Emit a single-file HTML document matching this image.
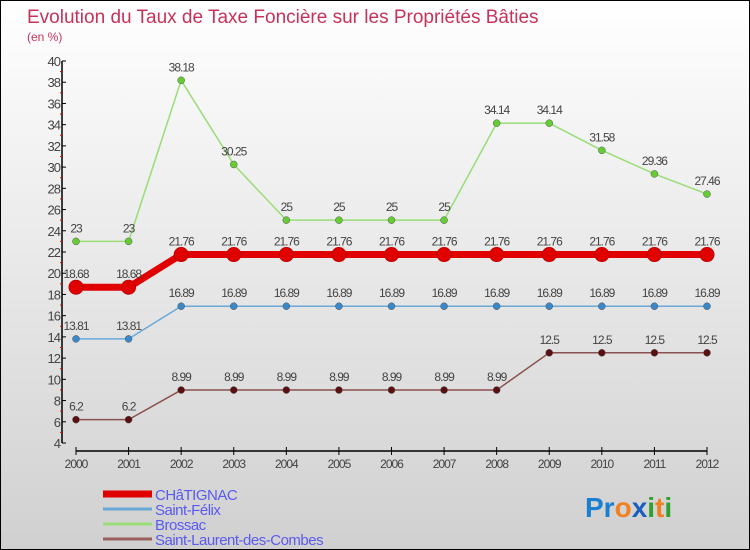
<!DOCTYPE html>
<html><head><meta charset="utf-8"><style>
body{margin:0}
#c{width:750px;height:550px;position:relative;background:linear-gradient(#fff,#d0d0d0);font-family:"Liberation Sans",sans-serif;overflow:hidden;box-sizing:border-box;border:1px solid #000}
text{font-family:"Liberation Sans",sans-serif}
</style></head><body>
<div id="c">
<svg id="s" width="750" height="550">
<text x="26" y="22" font-size="19" fill="#c8325a">Evolution du Taux de Taxe Foncière sur les Propriétés Bâties</text>
<text x="26" y="40" font-size="12" fill="#c8325a">(en %)</text>
<text x="584" y="516" font-size="28" font-weight="bold"><tspan fill="#1a7fd0">Pr</tspan><tspan fill="#f08020">o</tspan><tspan fill="#1a5fc0">x</tspan><tspan fill="#30a030">i</tspan><tspan fill="#f08020">t</tspan><tspan fill="#30a030">i</tspan></text>
</svg>
</div>
<script>
const years=[2000,2001,2002,2003,2004,2005,2006,2007,2008,2009,2010,2011,2012];
const yTicks=[4,6,8,10,12,14,16,18,20,22,24,26,28,30,32,34,36,38,40];
const chatignac=[18.68,18.68,21.76,21.76,21.76,21.76,21.76,21.76,21.76,21.76,21.76,21.76,21.76];
const saintFelix=[13.81,13.81,16.89,16.89,16.89,16.89,16.89,16.89,16.89,16.89,16.89,16.89,16.89];
const brossac=[23,23,38.18,30.25,25,25,25,25,34.14,34.14,31.58,29.36,27.46];
const saintLaurent=[6.2,6.2,8.99,8.99,8.99,8.99,8.99,8.99,8.99,12.5,12.5,12.5,12.5];
const seriesNames=["CHâTIGNAC","Saint-Félix","Brossac","Saint-Laurent-des-Combes"];
const NS="http://www.w3.org/2000/svg";
const s=document.getElementById('s');
const X=i=>75+i*(706-75)/(years.length-1);
const Y=v=>442-(v-4)*(442-60)/36;
function el(t,a,p){const e=document.createElementNS(NS,t);for(const k in a)e.setAttribute(k,a[k]);(p||s).appendChild(e);return e;}
// axes
let ya=el('line',{x1:61,y1:60,x2:61,y2:442,stroke:'#000','stroke-width':1.5});


yTicks.forEach(v=>{
  el('line',{x1:61,x2:65,y1:Y(v),y2:Y(v),stroke:'#000'});
  if(v<40) el('line',{x1:59,x2:61,y1:Y(v+1),y2:Y(v+1),stroke:'#e00'});
  const t=el('text',{x:59,y:Y(v)+5,'text-anchor':'end','font-size':13,fill:'#444','letter-spacing':'-1'});
  t.textContent=v;
  
  
});
let xa=el('line',{x1:75,y1:450,x2:706,y2:450,stroke:'#000','stroke-width':1.5});


years.forEach((y,i)=>{
  el('line',{x1:X(i),x2:X(i),y1:446,y2:454,stroke:'#000'});
  const t=el('text',{x:X(i),y:467,'text-anchor':'middle','font-size':12,fill:'#444','letter-spacing':'-1'});
  t.textContent=y;
  
  
});
const cfg=[[chatignac,'#e00000',7,7,'#c00000'],[saintFelix,'#6aa8d8',1.5,3.5,'#3a88c8'],[brossac,'#99dd77',1.5,3.5,'#66cc33'],[saintLaurent,'#8a5050',1.5,3.5,'#5a1010']];
const keys=['chatignac','saint-felix','brossac','saint-laurent'];
cfg.forEach((c,k)=>{
  const [d,col,w,r,fc]=c;
  const p=el('polyline',{points:d.map((v,i)=>X(i)+','+Y(v)).join(' '),fill:'none',stroke:col,'stroke-width':w,'stroke-linejoin':'round'});
  
  
  d.forEach((v,i)=>{
    const m=el('circle',{cx:X(i),cy:Y(v),r:r,fill:k==0?'#e00000':fc,stroke:k==0?'#c00000':'#555','stroke-width':k==0?1:0.5});
    
    
    const t=el('text',{x:X(i),y:Y(v)-9,'text-anchor':'middle','font-size':12,fill:'#444','letter-spacing':'-1'});
    t.textContent=v;
    
    
  });
});
// legend
const lc=[['#e00000',7],['#6aa8d8',3],['#99dd77',3],['#9a6060',3]];
seriesNames.forEach((n,i)=>{
  const y=493+i*15;
  const l=el('line',{x1:102,x2:151,y1:y,y2:y,stroke:lc[i][0],'stroke-width':lc[i][1]});
  
  
  const t=el('text',{x:154,y:y+6,'font-size':15,fill:'#5a5af0','letter-spacing':'-0.5'});
  t.textContent=n;
  
  
});
</script>
</body></html>
